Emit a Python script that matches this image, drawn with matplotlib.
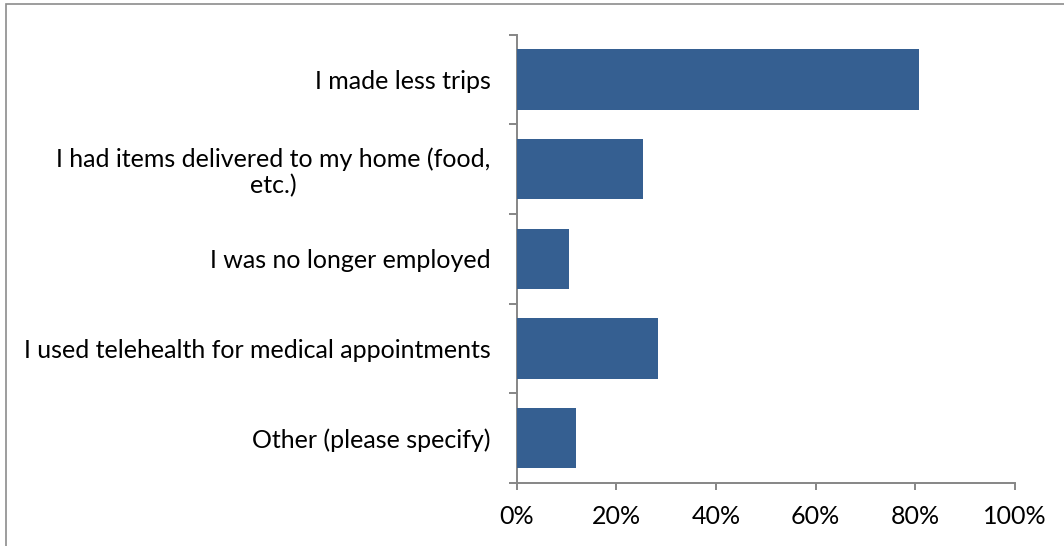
import matplotlib
matplotlib.use("Agg")
import matplotlib.pyplot as plt
from matplotlib.patches import Rectangle
from matplotlib.ticker import FuncFormatter, FixedLocator

categories = [
    "I made less trips",
    "I had items delivered to my home (food,\netc.)",
    "I was no longer employed",
    "I used telehealth for medical appointments",
    "Other (please specify)",
]
values = [80.8, 25.3, 10.5, 28.3, 11.9]
xticks = [0, 20, 40, 60, 80, 100]

BAR = "#355F91"
AX = "#868686"
FONT = "Lato"
FS = 18

plt.rcParams["font.family"] = [FONT, "DejaVu Sans"]

W, H = 1064, 546
fig = plt.figure(figsize=(W / 100, H / 100), dpi=100)
fig.patch.set_facecolor("white")

# chart-area border (top/left visible, right/bottom beyond image)
fig.patches.append(Rectangle((6 / W, -0.05), 1.1, 1 - 4.5 / H + 0.05,
                             transform=fig.transFigure, fill=False,
                             edgecolor="#8c8c8c", linewidth=1.2))

left, right = 516.7 / W, 1014.7 / W
bottom, top = 1 - 483 / H, 1 - 34.7 / H
ax = fig.add_axes([left, bottom, right - left, top - bottom])

ypos = list(range(len(categories)))
ax.barh(ypos, values, height=0.67, color=BAR, zorder=3)

ax.set_xlim(0, 100)
ax.set_ylim(len(categories) - 0.5, -0.5)

for s in ("top", "right"):
    ax.spines[s].set_visible(False)
for s in ("left", "bottom"):
    ax.spines[s].set_color(AX)
    ax.spines[s].set_linewidth(1.4)

ax.set_xticks(xticks)
ax.xaxis.set_major_formatter(FuncFormatter(lambda v, p: f"{int(v)}%"))
ax.tick_params(axis="x", direction="out", length=5.2, width=1.4, color=AX,
               labelsize=FS, pad=10.5, labelcolor="black")

ax.set_yticks(ypos)
ax.set_yticklabels(categories, fontsize=FS, ha="right", multialignment="center",
                   linespacing=1.15)
ax.yaxis.set_minor_locator(FixedLocator([i - 0.5 for i in range(len(categories) + 1)]))
ax.tick_params(axis="y", which="major", length=0, pad=18.7)
ax.tick_params(axis="y", which="minor", direction="out", length=5.8, width=1.4, color=AX)

fig.savefig("out.png", dpi=100, facecolor="white")
